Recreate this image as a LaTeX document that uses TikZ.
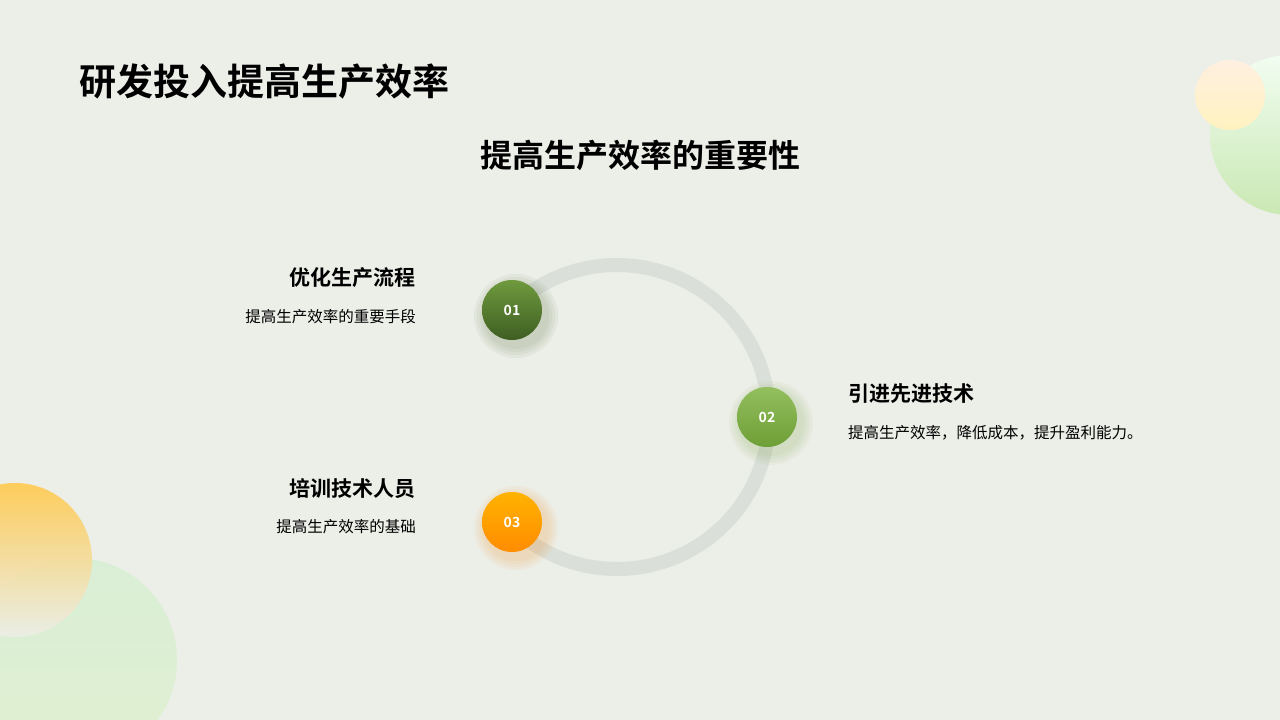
\documentclass[tikz,border=0pt]{standalone}
\usepackage{fontspec}
\setmainfont{Noto Sans CJK SC}
\newfontfamily\cjkb{Noto Sans CJK SC Bold}
\definecolor{bg}{HTML}{ECEEE8}
\definecolor{ring}{HTML}{DADFD9}
\definecolor{ga}{HTML}{6F9A3E}
\definecolor{gb}{HTML}{3E5E22}
\definecolor{gc}{HTML}{93BF5E}
\definecolor{gd}{HTML}{6E9E36}
\begin{document}
\begin{tikzpicture}[x=1pt,y=-1pt,
  dot/.style={circle,minimum size=60pt,inner sep=0pt,text=white,font=\cjkb\fontsize{14}{14}\selectfont},
  head/.style={anchor=east,inner sep=0pt,font=\cjkb\fontsize{21}{21}\selectfont},
  desc/.style={anchor=east,inner sep=0pt,font=\fontsize{15.5}{15.5}\selectfont}]
\fill[bg] (0,0) rectangle (1280,720);
\clip (0,0) rectangle (1280,720);
% decorations
\shade[top color=bg!70!green!15,bottom color=green!40!olive!30] (1290,135) circle (80);
\shade[top color=orange!12,bottom color=yellow!60!orange!25] (1230,95) circle (35);
\shade[top color=green!8!bg,bottom color=green!30!olive!18] (75,660) circle (102);
\shade[top color=orange!60!yellow!70,bottom color=bg,opacity=.9] (15,560) circle (77);
% texts
\node[anchor=west,inner sep=0pt,font=\cjkb\fontsize{37}{37}\selectfont] (title) at (79,82) {研发投入提高生产效率};
\node[font=\cjkb\fontsize{32}{32}\selectfont] (sub) at (640,155) {提高生产效率的重要性};
% ring
\coordinate (c) at (617,417);
\draw[ring,line width=14pt] (c) ++(138:152) arc[start angle=138,end angle=-138,radius=152];
% soft shadows
\foreach \x/\y/\col in {512/310/gb,767/417/gd,512/522/orange}{
  \foreach \r in {42,39,36,33}{\fill[\col,opacity=0.05] (\x+4,\y+6) circle (\r);}
}
\node[dot,shade,top color=ga,bottom color=gb] (n1) at (512,310) {01};
\node[dot,shade,top color=gc,bottom color=gd] (n2) at (767,417) {02};
\node[dot,shade,top color=orange!60!yellow,bottom color=orange!90!yellow] (n3) at (512,522) {03};
\node[head] (h1) at (416,278) {优化生产流程};
\node[desc] (d1) at (416,317) {提高生产效率的重要手段};
\node[head,anchor=west] (h2) at (848,394) {引进先进技术};
\node[desc,anchor=west] (d2) at (848,433) {提高生产效率，降低成本，提升盈利能力。};
\node[head] (h3) at (416,489) {培训技术人员};
\node[desc] (d3) at (416,527) {提高生产效率的基础};
\end{tikzpicture}
\end{document}
